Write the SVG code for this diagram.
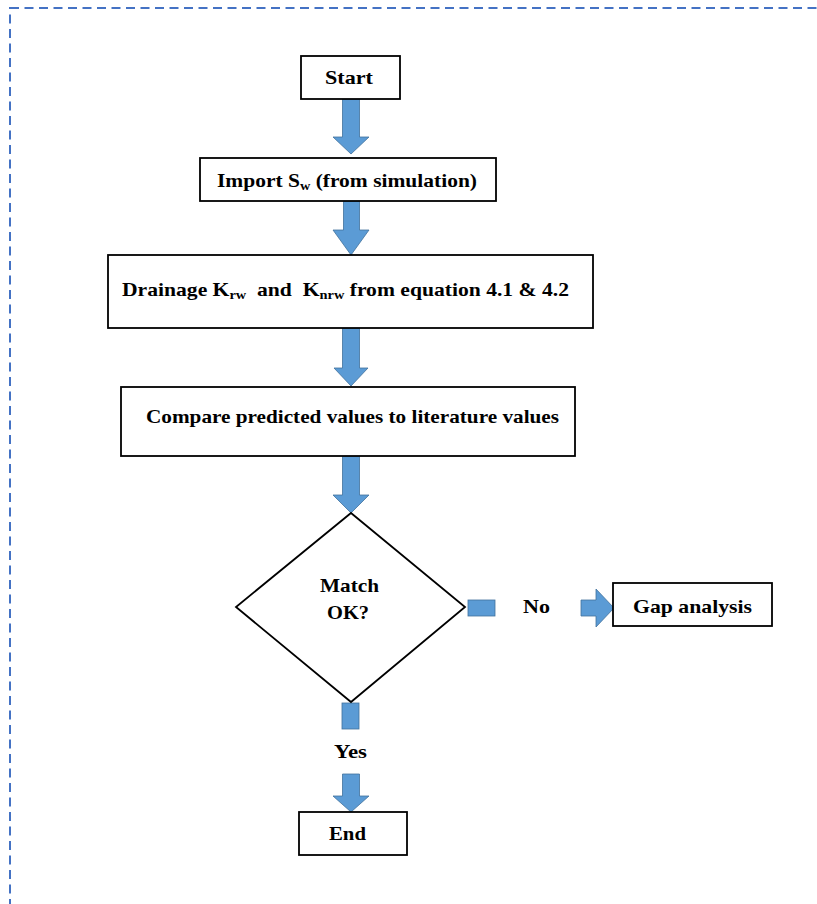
<svg xmlns="http://www.w3.org/2000/svg" width="817" height="904" viewBox="0 0 817 904">
<style>
.box{fill:#fff;stroke:#000;stroke-width:1.8}
.t{font-family:"Liberation Serif","Times New Roman",serif;font-weight:bold;font-size:19.5px;fill:#000}
.sub{font-size:13px}
.arr{fill:#5B9BD5;stroke:#41719C;stroke-width:0.8}
.frame{fill:none;stroke:#4472C4;stroke-width:2;stroke-dasharray:9 5.5}
</style>
<rect class="frame" x="10" y="8" width="900" height="1000"/>
<g id="connectors">
<path class="arr" d="M342.5,99 H359.5 V137 H369 L351,154 L333,137 H342.5 Z"/>
<path class="arr" d="M343.5,201 H359.5 V230 H369 L351,255 L333,230 H343.5 Z"/>
<path class="arr" d="M342.5,328 H359.5 V368 H368 L351,386 L334,368 H342.5 Z"/>
<path class="arr" d="M342.5,456 H359.5 V495 H369 L351,513 L333,495 H342.5 Z"/>
<rect class="arr" x="468" y="600" width="27" height="16"/>
<path class="arr" d="M581,600 H596 V589 L614,608 L596,627 V616 H581 Z"/>
<rect class="arr" x="342" y="703" width="17" height="26"/>
<path class="arr" d="M342.5,774 H359.5 V796 H369 L351,812 L333,796 H342.5 Z"/>
<text class="t" x="536.5" y="613" text-anchor="middle" textLength="27" lengthAdjust="spacingAndGlyphs">No</text>
<text class="t" x="350.5" y="758" text-anchor="middle" textLength="33" lengthAdjust="spacingAndGlyphs">Yes</text>
</g>
<g id="start">
<rect class="box" x="301" y="56" width="99" height="43"/>
<text class="t" x="349" y="84" text-anchor="middle" textLength="48" lengthAdjust="spacingAndGlyphs">Start</text>
</g>
<g id="import">
<rect class="box" x="200" y="158" width="296" height="43"/>
<text class="t" x="347" y="187" text-anchor="middle" textLength="260" lengthAdjust="spacingAndGlyphs">Import S<tspan class="sub" dy="3">w</tspan><tspan dy="-3"> (from simulation)</tspan></text>
</g>
<g id="drainage">
<rect class="box" x="108" y="255" width="485" height="73"/>
<text class="t" x="345.5" y="296" text-anchor="middle" textLength="447" lengthAdjust="spacingAndGlyphs" xml:space="preserve">Drainage K<tspan class="sub" dy="3">rw</tspan><tspan dy="-3">  and  K</tspan><tspan class="sub" dy="3">nrw</tspan><tspan dy="-3"> from equation 4.1 &amp; 4.2</tspan></text>
</g>
<g id="compare">
<rect class="box" x="121" y="387" width="454" height="69"/>
<text class="t" x="352.5" y="423" text-anchor="middle" textLength="413" lengthAdjust="spacingAndGlyphs">Compare predicted values to literature values</text>
</g>
<g id="decision">
<polygon class="box" points="351,513 465,607 351,702 236,607"/>
<text class="t" x="349.5" y="592" text-anchor="middle" textLength="59" lengthAdjust="spacingAndGlyphs">Match</text>
<text class="t" x="348" y="619" text-anchor="middle" textLength="42" lengthAdjust="spacingAndGlyphs">OK?</text>
</g>
<g id="gap">
<rect class="box" x="613" y="583" width="159" height="43"/>
<text class="t" x="692.5" y="613" text-anchor="middle" textLength="119" lengthAdjust="spacingAndGlyphs">Gap analysis</text>
</g>
<g id="end">
<rect class="box" x="299" y="812" width="108" height="43"/>
<text class="t" x="347.5" y="840" text-anchor="middle" textLength="37" lengthAdjust="spacingAndGlyphs">End</text>
</g>
</svg>
